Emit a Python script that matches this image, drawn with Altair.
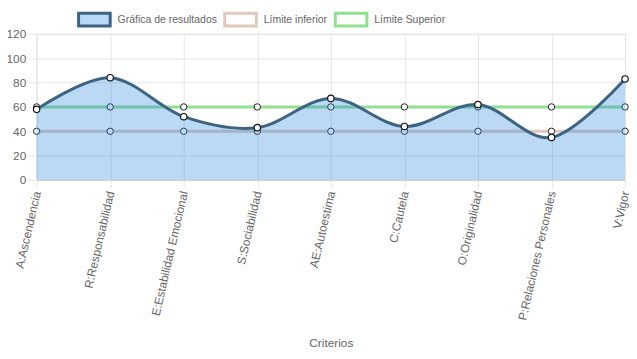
import altair as alt
import pandas as pd

categorias = ["A:Ascendencia", "R:Responsabilidad", "E:Estabilidad Emocional",
              "S:Sociabilidad", "AE:Autoestima", "C:Cautela", "O:Originalidad",
              "P:Relaciones Personales", "V:Vigor"]
resultados = [58, 84, 52, 43, 67, 44, 62, 35, 83]
limite_inferior = [40, 40, 40, 40, 40, 40, 40, 40, 40]
limite_superior = [60, 60, 60, 60, 60, 60, 60, 60, 60]
series = ["Gráfica de resultados", "Límite inferior", "Límite Superior"]

rows = []
for name, vals in zip(series, [resultados, limite_inferior, limite_superior]):
    for i, (c, v) in enumerate(zip(categorias, vals)):
        rows.append({"criterio": c, "valor": v, "serie": name, "orden": i})
df = pd.DataFrame(rows)

FONT = "Liberation Sans"
GRID = "#e6e6e6"
x = alt.X("criterio:N", sort=categorias, title="Criterios",
          scale=alt.Scale(paddingOuter=0, padding=0),
          axis=alt.Axis(labelAngle=283, labelAlign="right", labelBaseline="middle",
                        labelPadding=3, tickSize=8, tickColor=GRID, grid=True,
                        gridColor=GRID, domain=False, labelColor="#666",
                        labelFontSize=12, labelFont=FONT, titleFont=FONT,
                        titleFontSize=12, titleColor="#666", titleFontWeight="normal",
                        titleY=165, titleBaseline="middle", labelOverlap=False,
                        labelLimit=0))
y = alt.Y("valor:Q", title=None,
          scale=alt.Scale(domain=[0, 120], nice=False),
          axis=alt.Axis(values=[0, 20, 40, 60, 80, 100, 120], tickSize=8,
                        tickColor=GRID, domain=False,
                        gridColor=alt.condition(alt.datum.value == 0, alt.value("#cfcfcf"), alt.value(GRID)),
                        labelColor="#666", labelFontSize=12, labelFont=FONT,
                        labelPadding=3, labelOverlap=False))

base = alt.Chart(df)

lower = base.transform_filter(alt.datum.serie == "Límite inferior")
upper = base.transform_filter(alt.datum.serie == "Límite Superior")
res = base.transform_filter(alt.datum.serie == "Gráfica de resultados")

lower_line = lower.mark_line(color="#e2c8bc", strokeWidth=3).encode(x=x, y=y)
upper_line = upper.mark_line(color="#90e090", strokeWidth=3).encode(x=x, y=y)
lim_pts = base.transform_filter(alt.datum.serie != "Gráfica de resultados").mark_point(
    filled=True, fill="white", stroke="#222", strokeWidth=1, size=42, opacity=1).encode(x=x, y=y)

area = res.mark_area(interpolate="cardinal", color="#2a86e0", opacity=0.32).encode(x=x, y=y)
line = res.mark_line(interpolate="cardinal", color="#3d6383", strokeWidth=3).encode(x=x, y=y)
res_pts = res.mark_point(filled=True, fill="white", stroke="#111", strokeWidth=1.2,
                         size=42, opacity=1).encode(x=x, y=y)

leg = alt.Legend(title=None, orient="none", direction="horizontal", legendX=41, legendY=-32,
                 labelFont=FONT, labelFontSize=10.6, labelColor="#666",
                 symbolStrokeWidth=3, symbolSize=1024, symbolType="M-1,-0.4H1V0.4H-1Z",
                 labelOffset=6, columnPadding=1, padding=0)
legend_layer = base.transform_filter("false").mark_point(
    shape="M-1,-0.4H1V0.4H-1Z", opacity=1, strokeWidth=3, filled=True).encode(
    x=x, y=y,
    fill=alt.Fill("serie:N", scale=alt.Scale(domain=series, range=["#b9d9f7", "#ffffff", "#ffffff"]), legend=leg),
    stroke=alt.Stroke("serie:N", scale=alt.Scale(domain=series, range=["#3d6383", "#e2c8bc", "#90e090"]), legend=leg),
)

chart = alt.layer(lower_line, upper_line, lim_pts, area, line, res_pts, legend_layer).properties(
    width=596, height=148,
    autosize=alt.AutoSizeParams(type="none"),
    padding={"left": 29, "top": 24, "right": 4, "bottom": 171},
).configure_view(stroke=None).configure(background="white")

chart.save("out.html", embed_options={"renderer": "svg", "actions": False})
